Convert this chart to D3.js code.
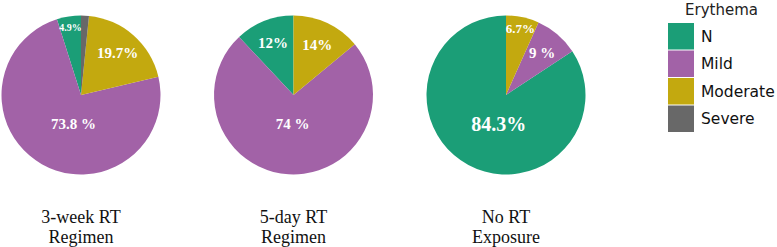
<!DOCTYPE html>
<html>
<head>
<meta charset="utf-8">
<script src="https://cdn.jsdelivr.net/npm/d3@7"></script>
<style>
  body { margin: 0; background: #fff; }
  svg { display: block; }
</style>
</head>
<body>
<div id="chart"></div>
<script>
// erythema grade per RT regimen
const categories = ['N', 'Mild', 'Moderate', 'Severe'];
const groups = ['3-week RT Regimen', '5-day RT Regimen', 'No RT Exposure'];
const groupTitles = [['3-week RT', 'Regimen'], ['5-day RT', 'Regimen'], ['No RT', 'Exposure']];

const week3Values = [4.9, 73.8, 19.7, 1.6];
const day5Values = [12, 74, 14, 0];
const noRTValues = [84.3, 9, 6.7, 0];

const week3Labels = ['4.9%', '73.8 %', '19.7%', ''];
const day5Labels = ['12%', '74 %', '14%', ''];
const noRTLabels = ['84.3%', '9 %', '6.7%', ''];

const colors = ['#1b9e77', '#a262a7', '#c3a90f', '#686868'];

const width = 777, height = 247;
const radius = 79.5;

const svg = d3.select('#chart').append('svg')
	.attr('width', width)
	.attr('height', height);

const x = d3.scalePoint()
	.domain(groups)
	.range([81, 506]);

const color = d3.scaleOrdinal()
	.domain(categories)
	.range(colors);

const pie = d3.pie()
	.sort(null)
	.startAngle(0)
	.endAngle(-2 * Math.PI)
	.value(d => d.value);

const arc = d3.arc().innerRadius(0).outerRadius(radius);

const series = [
	{ group: groups[0], title: groupTitles[0], values: week3Values, labels: week3Labels },
	{ group: groups[1], title: groupTitles[1], values: day5Values, labels: day5Labels },
	{ group: groups[2], title: groupTitles[2], values: noRTValues, labels: noRTLabels }
];

function labelSize(v) {
	if (v > 80) return 20;
	if (v < 5) return 10;
	if (v < 8) return 13;
	return 15;
}

series.forEach(function(s) {
	const cx = x(s.group), cy = 95;
	const rows = categories.map((c, i) => ({ cat: c, value: s.values[i], label: s.labels[i] }));
	const arcs = pie(rows).filter(d => d.data.value > 0);

	const g = svg.append('g')
		.attr('transform', 'translate(' + cx + ',' + cy + ')');

	g.selectAll('path')
		.data(arcs)
		.enter().append('path')
		.attr('d', arc)
		.attr('fill', d => color(d.data.cat));

	g.selectAll('text.pct')
		.data(arcs.filter(d => d.data.label))
		.enter().append('text')
		.attr('class', 'pct')
		.attr('transform', function(d) {
			var p;
			if (d.data.value > 50) {
				var c = d3.arc().innerRadius(0).outerRadius(radius * 0.76).centroid(d);
				p = [c[0] * 0.5, radius * 0.37];
			} else {
				var k = d.data.value < 8 ? 0.86 : 0.7;
				p = d3.arc().innerRadius(radius * k).outerRadius(radius * k).centroid(d);
			}
			return 'translate(' + p[0] + ',' + p[1] + ')';
		})
		.attr('text-anchor', 'middle')
		.attr('dominant-baseline', 'central')
		.attr('fill', '#fff')
		.attr('font-family', '"Liberation Serif", "Times New Roman", serif')
		.attr('font-weight', 'bold')
		.attr('font-size', d => labelSize(d.data.value))
		.text(d => d.data.label);

	svg.append('text')
		.attr('x', cx)
		.attr('y', 223)
		.attr('text-anchor', 'middle')
		.attr('font-family', '"Liberation Serif", "Times New Roman", serif')
		.attr('font-size', 18)
		.attr('fill', '#111')
		.selectAll('tspan')
		.data(s.title)
		.enter().append('tspan')
		.attr('x', cx)
		.attr('dy', (d, i) => i ? 20 : 0)
		.text(d => d);
});

// legend
const legend = svg.append('g')
	.attr('transform', 'translate(668,23)');

legend.append('text')
	.attr('x', 17)
	.attr('y', -8)
	.attr('font-family', '"DejaVu Sans", sans-serif')
	.attr('font-size', 15)
	.attr('fill', '#222')
	.text('Erythema');

const item = legend.selectAll('g.item')
	.data(categories)
	.enter().append('g')
	.attr('class', 'item')
	.attr('transform', (d, i) => 'translate(0,' + (i * 27.5) + ')');

item.append('rect')
	.attr('width', 26)
	.attr('height', 26.5)
	.attr('fill', d => color(d));

item.append('text')
	.attr('x', 33)
	.attr('y', 13.5)
	.attr('dominant-baseline', 'central')
	.attr('font-family', '"DejaVu Sans", sans-serif')
	.attr('font-size', 15.5)
	.attr('fill', '#111')
	.text(d => d);
</script>
</body>
</html>
